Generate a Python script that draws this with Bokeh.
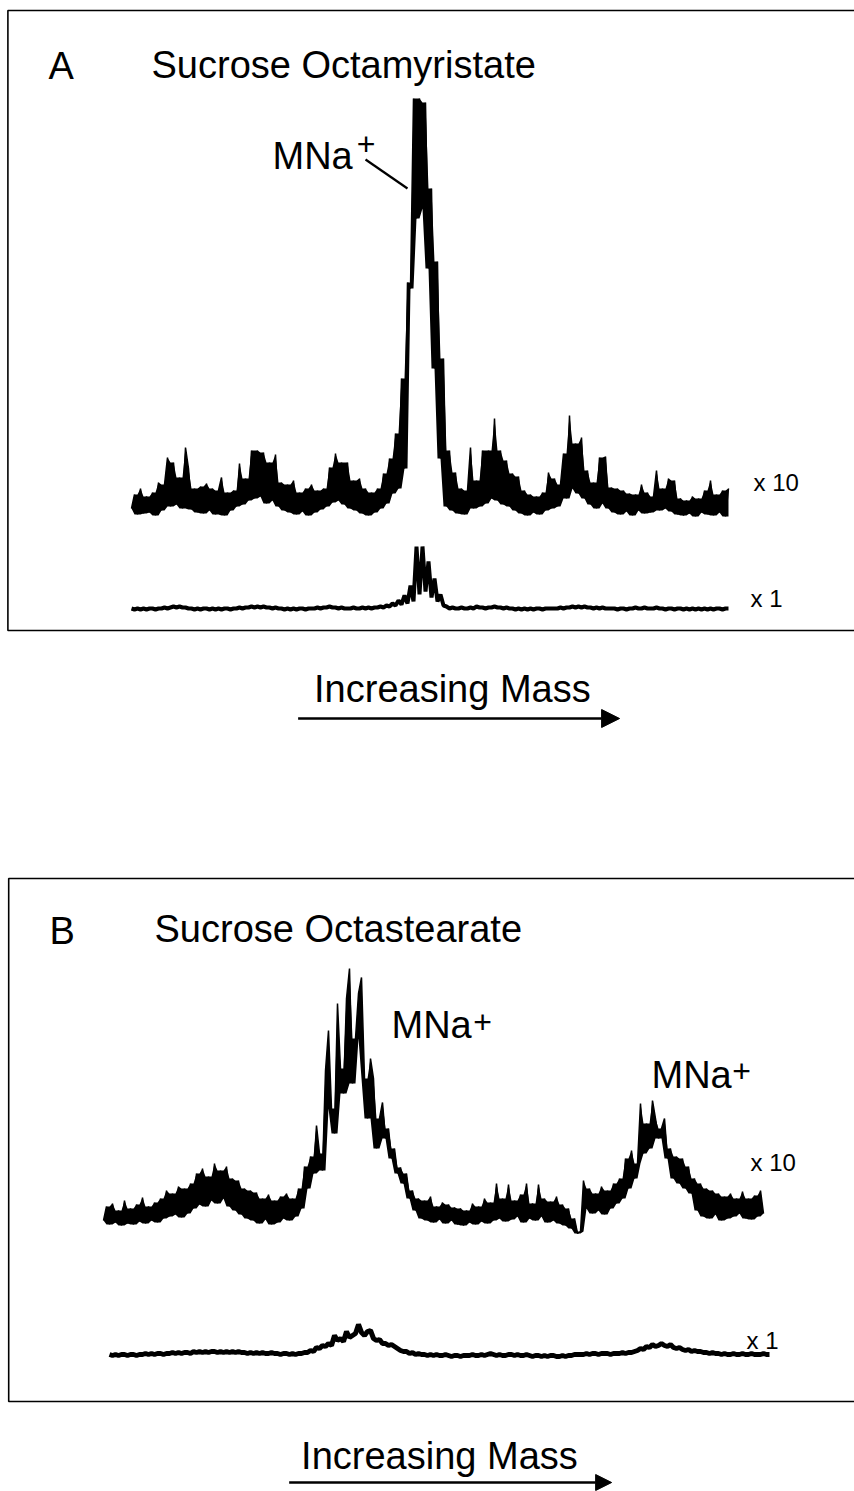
import numpy as np
from bokeh.plotting import figure
from bokeh.models import Label, Arrow, NormalHead, Range1d, BoxAnnotation
from bokeh.layouts import column
from bokeh.embed import file_html
from bokeh.resources import INLINE

# ---------------- data ----------------
# Panel A, sucrose octamyristate: intensity per channel, x10 and x1 traces
a_x10 = [
    10, 24, 4, 30, 5, 22, 6, 26, 3, 36,
    8, 34, 61, 12, 56, 14, 41, 10, 71, 50,
    9, 30, 6, 32, 5, 35, 8, 30, 4, 28,
    41, 3, 26, 8, 28, 12, 55, 14, 40, 18,
    68, 20, 68, 22, 66, 15, 56, 18, 64, 12,
    36, 8, 34, 6, 38, 4, 26, 7, 30, 3,
    34, 6, 28, 9, 30, 12, 51, 16, 65, 18,
    56, 14, 56, 10, 38, 8, 40, 5, 30, 3,
    26, 6, 30, 10, 45, 15, 60, 25, 85, 30,
    140, 50, 236, 230, 420, 300, 420, 310, 416, 250,
    330, 150, 257, 60, 160, 12, 68, 8, 46, 5,
    30, 4, 28, 71, 10, 38, 12, 68, 15, 68,
    20, 100, 18, 68, 14, 58, 12, 45, 8, 42,
    5, 28, 3, 24, 6, 22, 4, 26, 8, 46,
    10, 40, 12, 34, 65, 20, 103, 30, 75, 25,
    81, 20, 48, 14, 36, 10, 61, 15, 62, 10,
    31, 6, 30, 4, 28, 7, 25, 3, 24, 8,
    34, 5, 26, 6, 22, 48, 8, 30, 10, 40,
    7, 38, 4, 20, 3, 18, 5, 22, 2, 20,
    6, 28, 4, 38, 3, 24, 6, 28, 2, 30,
]
a_x1 = [
    1, 0, 1, 0, 1, 0, 1, 1, 0, 1,
    1, 2, 1, 2, 3, 2, 3, 2, 2, 1,
    1, 0, 1, 0, 1, 1, 0, 1, 0, 1,
    0, 1, 1, 0, 1, 1, 2, 1, 2, 2,
    3, 2, 3, 2, 3, 2, 2, 1, 2, 1,
    1, 0, 1, 0, 1, 0, 1, 1, 0, 1,
    1, 1, 2, 1, 2, 2, 3, 2, 2, 1,
    2, 1, 1, 1, 2, 1, 1, 2, 1, 2,
    1, 2, 2, 3, 2, 4, 3, 6, 4, 9,
    5, 14, 6, 24, 8, 63, 15, 63, 18, 48,
    12, 31, 8, 15, 4, 3, 1, 2, 1, 1,
    2, 1, 1, 2, 1, 3, 2, 2, 1, 2,
    2, 3, 2, 2, 1, 2, 1, 1, 0, 1,
    0, 1, 0, 1, 0, 1, 1, 0, 1, 1,
    1, 1, 1, 2, 1, 2, 2, 3, 2, 3,
    2, 3, 2, 2, 1, 2, 1, 2, 1, 1,
    1, 1, 0, 1, 1, 0, 1, 1, 2, 1,
    1, 2, 1, 1, 1, 2, 1, 1, 0, 1,
    1, 0, 1, 1, 0, 1, 0, 1, 0, 1,
    0, 1, 0, 1, 0, 1, 1, 0, 1, 1,
]

# Panel B, sucrose octastearate
b_x10 = [
    8, 22, 4, 25, 6, 18, 3, 28, 5, 20,
    4, 24, 7, 31, 5, 22, 8, 26, 6, 30,
    10, 38, 12, 35, 14, 42, 11, 40, 15, 45,
    20, 55, 24, 60, 22, 52, 28, 65, 25, 58,
    30, 62, 22, 50, 18, 48, 14, 40, 10, 38,
    8, 36, 5, 30, 9, 34, 4, 28, 6, 32,
    10, 35, 8, 30, 12, 40, 20, 62, 40, 72,
    55, 103, 75, 58, 158, 198, 120, 95, 225, 160,
    135, 230, 260, 145, 190, 235, 251, 150, 110, 170,
    150, 80, 110, 126, 90, 100, 70, 80, 55, 61,
    45, 55, 30, 38, 18, 30, 10, 28, 8, 32,
    6, 22, 9, 26, 5, 24, 8, 21, 4, 20,
    3, 18, 6, 25, 4, 22, 7, 30, 5, 26,
    8, 45, 10, 30, 7, 44, 9, 28, 12, 34,
    6, 45, 10, 25, 8, 44, 12, 30, 6, 27,
    8, 32, 5, 24, 3, 20, 0, 10, -5, -3,
    48, 20, 40, 15, 35, 18, 42, 14, 38, 20,
    45, 25, 50, 30, 70, 40, 78, 50, 65, 125,
    75, 105, 80, 128, 110, 90, 100, 110, 70, 80,
    50, 72, 45, 70, 40, 62, 35, 50, 18, 45,
    12, 40, 10, 38, 14, 35, 8, 32, 10, 35,
    12, 30, 15, 37, 10, 30, 9, 33, 12, 38, 15,
]
b_x1_first_channel = 2
b_x1 = [
    1, 0, 1, 0, 1, 1, 0, 1, 1, 0,
    1, 1, 2, 1, 2, 1, 2, 2, 1, 2,
    2, 3, 2, 3, 2, 3, 3, 2, 4, 3,
    4, 3, 4, 3, 4, 4, 3, 4, 3, 4,
    3, 4, 3, 4, 3, 3, 2, 3, 2, 3,
    2, 3, 2, 2, 3, 2, 2, 1, 2, 2,
    1, 2, 1, 2, 2, 3, 3, 5, 4, 8,
    7, 10, 9, 12, 10, 20, 15, 17, 14, 24,
    18, 20, 22, 31, 23, 20, 24, 25, 17, 15,
    16, 12, 12, 10, 11, 9, 7, 5, 4, 4,
    2, 3, 1, 2, 1, 1, 0, 1, 0, 1,
    0, 0, 1, 0, -1, 0, 0, -1, 0, 0,
    0, 1, 0, 0, 1, 0, 1, 2, 1, 0,
    1, 0, 0, 1, 1, 0, 1, 0, 0, 1,
    0, -1, 0, 0, -1, 0, -1, 0, 0, -1,
    -1, 0, -1, 0, 0, 1, 1, 1, 1, 2,
    1, 2, 2, 1, 2, 2, 2, 1, 2, 2,
    2, 3, 2, 3, 3, 4, 5, 7, 6, 9,
    8, 11, 9, 10, 12, 10, 9, 11, 8, 7,
    8, 6, 5, 6, 4, 5, 4, 4, 3, 3,
    2, 3, 2, 2, 1, 2, 1, 1, 2, 1,
    1, 2, 1, 1, 2, 1, 1, 1, 2, 1, 1,
]

titles = ["Sucrose Octamyristate", "Sucrose Octastearate"]
panel_letters = ["A", "B"]
scale_labels = ["x 10", "x 1"]
ion_label = "MNa"
axis_caption = "Increasing Mass"

# ---------------- styling / layout ----------------
FONT = "Liberation Sans"
BIG = "38px"
SMALL = "24px"
W = 854


def make_fig(h, xr, yr, border=4):
    p = figure(width=W, height=h, x_range=Range1d(*xr), y_range=Range1d(*yr),
               output_backend="svg", toolbar_location=None,
               x_axis_location=None, y_axis_location=None,
               min_border_left=border, min_border_right=0,
               min_border_top=border, min_border_bottom=border)
    p.outline_line_color = None
    p.background_fill_color = "white"
    p.border_fill_color = "white"
    p.xgrid.visible = False
    p.ygrid.visible = False
    return p


def label(p, x, y, text, size=BIG, align="left"):
    p.add_layout(Label(x=x, y=y, text=text, text_font=FONT, text_font_size=size,
                       text_color="black", text_align=align,
                       text_baseline="alphabetic"))


def frame_box(p, left, right, top, bottom):
    p.add_layout(BoxAnnotation(left=left, right=right, top=top, bottom=bottom,
                               fill_color=None, fill_alpha=0,
                               line_color="black", line_alpha=1.0,
                               line_width=1.6, line_dash="solid"))


def spectrum(p, x, vals, offset, width):
    """Noisy trace: the zig-zag line plus the dense dark band it sweeps."""
    v = np.asarray(vals, dtype=float)
    prev = np.r_[v[0], v[:-1]]
    nxt = np.r_[v[1:], v[-1]]
    lo = np.minimum(np.minimum(prev, nxt), v)
    band_top = np.minimum(np.maximum(prev, v), np.maximum(v, nxt))
    p.varea(x=x, y1=lo + offset, y2=band_top + offset, fill_color="black")
    p.line(x, v + offset, line_color="black", line_width=width)


# ---------- Panel A ----------
A_X10_OFFSET = 91
figA = make_fig(640, (-42.333, 241), (-27, 605))
spectrum(figA, np.arange(len(a_x10)), a_x10, A_X10_OFFSET, 1.5)
figA.line(np.arange(len(a_x1)), a_x1, line_color="black", line_width=4)
frame_box(figA, -41.2, 260, 599, -21)


def pa(px, py):
    return (px - 131) / 3.0, 609 - py


label(figA, *pa(48, 65), panel_letters[0])
label(figA, *pa(151, 64), titles[0])
label(figA, *pa(272, 155), ion_label)
label(figA, *pa(365.5, 143), "+", size="32px", align="center")
s = pa(365, 159); e = pa(407, 188)
figA.add_layout(Arrow(end=None, x_start=s[0], y_start=s[1], x_end=e[0], y_end=e[1],
                      line_color="black", line_width=2.2))
label(figA, *pa(753, 482), scale_labels[0], size=SMALL)
label(figA, *pa(750, 598), scale_labels[1], size=SMALL)

# ---------- caption A ----------
capA = make_fig(230, (0, W), (0, 230), border=0)
label(capA, 311, 870 - 688, axis_caption)
capA.add_layout(Arrow(end=NormalHead(size=18, fill_color="black", line_color="black"),
                      x_start=295, y_start=870 - 718, x_end=618, y_end=870 - 718,
                      line_color="black", line_width=2.5))

# ---------- Panel B ----------
B_X10_OFFSET = 127
figB = make_fig(540, (-33, 250.333), (-51, 481))
spectrum(figB, np.arange(len(b_x10)), b_x10, B_X10_OFFSET, 1.5)
figB.line(np.arange(len(b_x1)) + b_x1_first_channel, b_x1,
          line_color="black", line_width=5)
frame_box(figB, -31.6, 270, 477, -46)


def pb(px, py):
    return (px - 103) / 3.0, 1355 - py


label(figB, *pb(49, 930), panel_letters[1])
label(figB, *pb(154, 928), titles[1])
label(figB, *pb(391, 1024), ion_label)
label(figB, *pb(482, 1021), "+", size="32px", align="center")
label(figB, *pb(651, 1074), ion_label)
label(figB, *pb(741, 1070), "+", size="32px", align="center")
label(figB, *pb(750, 1162), scale_labels[0], size=SMALL)
label(figB, *pb(746, 1340), scale_labels[1], size=SMALL)

# ---------- caption B ----------
capB = make_fig(81, (0, W), (0, 81), border=0)
label(capB, 298, 1491 - 1455, axis_caption)
capB.add_layout(Arrow(end=NormalHead(size=16, fill_color="black", line_color="black"),
                      x_start=286, y_start=1491 - 1482, x_end=610, y_end=1491 - 1482,
                      line_color="black", line_width=2.5))

layout = column(figA, capA, figB, capB, spacing=0)
open("out.html", "w").write(file_html(layout, INLINE))
